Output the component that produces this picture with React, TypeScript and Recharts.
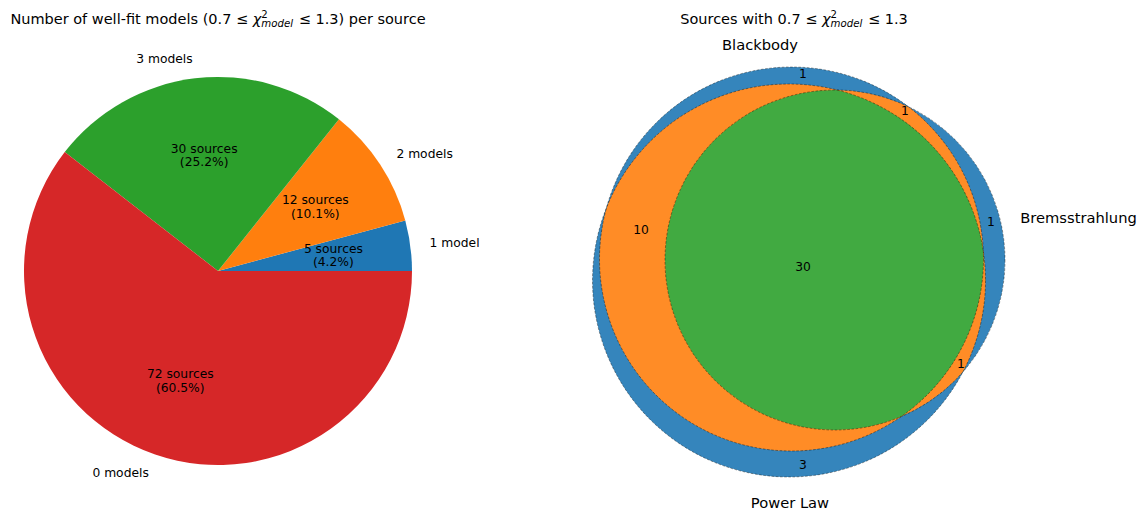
import React from 'react';
import { Cell, Pie, PieChart, Scatter, ScatterChart, XAxis, YAxis, ZAxis } from 'recharts';

const FONT = '"DejaVu Sans", sans-serif';

// left: sources per number of well-fit models
const modelLabels = ['1 model', '2 models', '3 models', '0 models'];
const sourceCounts = [5, 12, 30, 72];
const pieColors = ['#1f77b4', '#ff7f0e', '#2ca02c', '#d62728'];

// right: venn of the three models (units: centres/radii, y up)
const vennIds = ['A', 'B', 'C'];
const vennSets = ['Blackbody', 'Bremsstrahlung', 'Power Law'];
const vennCentreX = [-0.085, 0.35, -0.11];
const vennCentreY = [0.11, 0.1, -0.105];
const vennRadius = [1.92, 1.7, 1.965];
const vennSetLabelX = [-0.4, 2.785, -0.1];
const vennSetLabelY = [2.26, 0.525, -2.327];

const regionCounts = [1, 1, 1, 3, 10, 1, 30]; // A, B, AB, C, AC, BC, ABC
const regionLabelX = [0.03, 1.91, 1.05, 0.03, -1.59, 1.61, 0.03];
const regionLabelY = [1.96, 0.48, 1.59, -1.95, 0.4, -0.94, 0.03];

const BLUE = '#3585bc';
const ORANGE = '#ff8c26';
const GREEN = '#41aa41';

const pieData = modelLabels.map((name, i) => ({ name, value: sourceCounts[i] }));

const circles = vennIds.map((id, i) => ({
  id,
  x: vennCentreX[i],
  y: vennCentreY[i],
  r: vennRadius[i],
}));
// pairwise overlaps: circle drawn, clipped by the others
const pairLayers = [
  { ...circles[1], clip: ['A'] },
  { ...circles[2], clip: ['A'] },
  { ...circles[2], clip: ['B'] },
];
const tripleLayer = [{ ...circles[2], clip: ['A', 'B'] }];

const regionLabels = regionCounts.map((n, i) => ({
  x: regionLabelX[i],
  y: regionLabelY[i],
  text: String(n),
  size: 12.3,
}));
const setLabels = vennSets.map((s, i) => ({
  x: vennSetLabelX[i],
  y: vennSetLabelY[i],
  text: s,
  size: 14.7,
}));

const VENN_W = 580;
const VENN_H = 515;
const X_DOM: [number, number] = [-2.4, 3.4];
const Y_DOM: [number, number] = [-2.45, 2.7];
const PX = VENN_W / (X_DOM[1] - X_DOM[0]);

const RADIAN = Math.PI / 180;

const renderPieLabel = (p: any) => {
  const { cx, cy, midAngle, outerRadius, percent, name, value } = p;
  const c = Math.cos(-midAngle * RADIAN);
  const s = Math.sin(-midAngle * RADIAN);
  const ox = cx + outerRadius * 1.1 * c;
  const oy = cy + outerRadius * 1.1 * s;
  const ix = cx + outerRadius * 0.6 * c;
  const iy = cy + outerRadius * 0.6 * s;
  return (
    <g fontFamily={FONT} fontSize={12.3} fill="#000">
      <text x={ox} y={oy} textAnchor={c >= 0 ? 'start' : 'end'} dominantBaseline="central">
        {name}
      </text>
      <text x={ix} y={iy - 6.7} textAnchor="middle" dominantBaseline="central">
        {`${value} sources`}
      </text>
      <text x={ix} y={iy + 6.7} textAnchor="middle" dominantBaseline="central">
        {`(${(percent * 100).toFixed(1)}%)`}
      </text>
    </g>
  );
};

const SetShape = (p: any) => {
  const r = p.width / 2;
  return (
    <g>
      <clipPath id={`venn-${p.payload.id}`}>
        <circle cx={p.cx} cy={p.cy} r={r} />
      </clipPath>
      <circle cx={p.cx} cy={p.cy} r={r} fill={BLUE} />
    </g>
  );
};

const clippedShape = (color: string) => (p: any) => {
  let node = <circle cx={p.cx} cy={p.cy} r={p.width / 2} fill={color} />;
  for (const c of p.payload.clip) {
    node = <g clipPath={`url(#venn-${c})`}>{node}</g>;
  }
  return node;
};

const OutlineShape = (p: any) => (
  <circle
    cx={p.cx}
    cy={p.cy}
    r={p.width / 2}
    fill="none"
    stroke="#000"
    strokeOpacity={0.55}
    strokeWidth={0.7}
    strokeDasharray="2.6 1.6"
  />
);

const TextShape = (p: any) => (
  <text
    x={p.cx}
    y={p.cy}
    textAnchor="middle"
    dominantBaseline="central"
    fontFamily={FONT}
    fontSize={p.payload.size}
    fill="#000"
  >
    {p.payload.text}
  </text>
);

const Chi = () => (
  <>
    <tspan fontStyle="italic">χ</tspan>
    <tspan fontSize={10.2} dy={-6.5}>
      2
    </tspan>
    <tspan fontSize={10.2} fontStyle="italic" dx={-6.5} dy={9.5}>
      model
    </tspan>
    <tspan dx={1} dy={-3}>{' ≤ 1.3'}</tspan>
  </>
);

export default function App() {
  return (
    <div style={{ position: 'absolute', left: 0, top: 0, width: 1140, height: 515, background: '#fff' }}>
      <div style={{ position: 'absolute', left: 0, top: 0 }}>
        <PieChart width={560} height={515} margin={{ top: 0, right: 0, bottom: 0, left: 0 }}>
          <Pie
            data={pieData}
            dataKey="value"
            nameKey="name"
            cx={218}
            cy={271}
            outerRadius={194}
            startAngle={0}
            endAngle={360}
            stroke="none"
            label={renderPieLabel}
            labelLine={false}
            isAnimationActive={false}
          >
            {pieData.map((d, i) => (
              <Cell key={d.name} fill={pieColors[i]} />
            ))}
          </Pie>
        </PieChart>
      </div>
      <div style={{ position: 'absolute', left: 560, top: 0 }}>
        <ScatterChart width={VENN_W} height={VENN_H} margin={{ top: 0, right: 0, bottom: 0, left: 0 }}>
          <XAxis type="number" dataKey="x" domain={X_DOM} hide />
          <YAxis type="number" dataKey="y" domain={Y_DOM} hide />
          <ZAxis
            zAxisId="r"
            type="number"
            dataKey={(d: any) => d.r * d.r}
            domain={[0, 4]}
            range={[0, 4 * Math.PI * PX * PX]}
          />
          <Scatter data={circles} zAxisId="r" shape={SetShape} isAnimationActive={false} />
          <Scatter data={pairLayers} zAxisId="r" shape={clippedShape(ORANGE)} isAnimationActive={false} />
          <Scatter data={tripleLayer} zAxisId="r" shape={clippedShape(GREEN)} isAnimationActive={false} />
          <Scatter data={circles} zAxisId="r" shape={OutlineShape} isAnimationActive={false} />
          <Scatter data={regionLabels} shape={TextShape} isAnimationActive={false} />
          <Scatter data={setLabels} shape={TextShape} isAnimationActive={false} />
        </ScatterChart>
      </div>
      <svg
        width={1140}
        height={515}
        style={{ position: 'absolute', left: 0, top: 0, pointerEvents: 'none' }}
        fontFamily={FONT}
        fontSize={14.5}
      >
        <text x={218} y={24} textAnchor="middle" fill="#000">
          {'Number of well-fit models (0.7 ≤ '}
          <Chi />
          {') per source'}
        </text>
        <text x={794} y={24} textAnchor="middle" fill="#000">
          {'Sources with 0.7 ≤ '}
          <Chi />
        </text>
      </svg>
    </div>
  );
}
